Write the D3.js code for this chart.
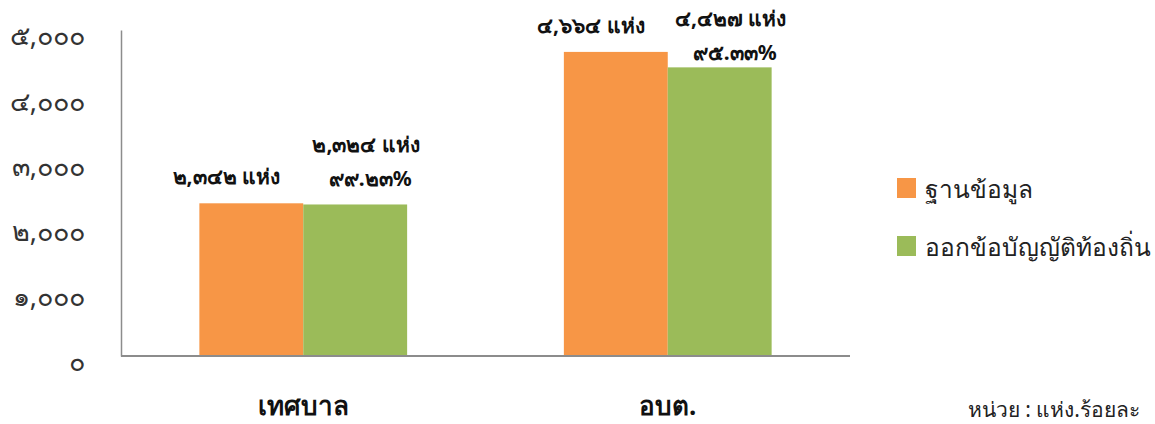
<!DOCTYPE html>
<html>
<head>
<meta charset="utf-8">
<script src="https://cdn.jsdelivr.net/npm/d3@7"></script>
<style>
  body { margin: 0; background: #fff; }
  svg { display: block; font-family: "Noto Sans", "DejaVu Sans", sans-serif; }
</style>
</head>
<body>
<svg id="chart" width="1155" height="424"></svg>
<script>
// data
const categories = ['เทศบาล', 'อบต.'];
const seriesNames = ['ฐานข้อมูล', 'ออกข้อบัญญัติท้องถิ่น'];
const baseValues = [2342, 4664];
const issuedValues = [2324, 4427];
const baseLabels = ['๒,๓๔๒ แห่ง', '๔,๖๖๔ แห่ง'];
const issuedLabels = ['๒,๓๒๔ แห่ง', '๔,๔๒๗ แห่ง'];
const percentLabels = ['๙๙.๒๓%', '๙๕.๓๓%'];
const yTicks = [0, 1000, 2000, 3000, 4000, 5000];
const yTickLabels = ['๐', '๑,๐๐๐', '๒,๐๐๐', '๓,๐๐๐', '๔,๐๐๐', '๕,๐๐๐'];
const colors = ['#f79646', '#9bbb59'];

const svg = d3.select('#chart');
const plot = { left: 121, right: 850, top: 30, bottom: 356 };

const x0 = d3.scaleBand().domain(categories).range([plot.left, plot.right]).paddingInner(0.43).paddingOuter(0.215);
const x1 = d3.scaleBand().domain([0, 1]).range([0, x0.bandwidth()]);
const y = d3.scaleLinear().domain([0, 5000]).range([plot.bottom, plot.top]);

const rows = categories.map((c, i) => ({ cat: c, vals: [baseValues[i], issuedValues[i]] }));

// bars
const groups = svg.append('g').selectAll('g').data(rows).join('g')
  .attr('transform', d => `translate(${x0(d.cat)},0)`);
groups.selectAll('rect').data(d => d.vals.map((v, k) => ({ v, k }))).join('rect')
  .attr('x', d => x1(d.k))
  .attr('width', x1.bandwidth())
  .attr('y', d => y(d.v))
  .attr('height', d => y(0) - y(d.v))
  .attr('fill', d => colors[d.k]);

// axes
const yAxis = svg.append('g').attr('transform', `translate(${plot.left},0)`)
  .call(d3.axisLeft(y).tickValues(yTicks).tickSize(0).tickPadding(36).tickFormat((d, i) => yTickLabels[i]));
yAxis.select('.domain').attr('stroke', '#8c8c8c').attr('stroke-width', 1.5);
yAxis.selectAll('text').attr('font-size', 27).attr('font-weight', 'normal').attr('fill', '#333').attr('dy', '0.55em')
  .attr('font-family', '"Noto Sans", "DejaVu Sans", sans-serif');

svg.append('line')
  .attr('x1', plot.left).attr('x2', plot.right)
  .attr('y1', plot.bottom).attr('y2', plot.bottom)
  .attr('stroke', '#8c8c8c').attr('stroke-width', 2);

// category labels
svg.append('g').selectAll('text').data(categories).join('text')
  .attr('x', d => x0(d) + x0.bandwidth() / 2)
  .attr('y', 415)
  .attr('text-anchor', 'middle')
  .attr('font-size', 26)
  .attr('font-weight', 'bold')
  .attr('fill', '#111')
  .text(d => d);

// value labels
const lab = svg.append('g').attr('font-size', 21).attr('font-weight', 'bold').attr('fill', '#111').attr('text-anchor', 'middle');
categories.forEach((c, i) => {
  const bx = x0(c);
  const nameY = Math.max(y(issuedValues[i]) - 52, 26);
  lab.append('text')
    .attr('x', bx + x1(0) + x1.bandwidth() / 2 - 25)
    .attr('y', y(baseValues[i]) - 19)
    .text(baseLabels[i]);
  lab.append('text')
    .attr('x', bx + x1(1) + x1.bandwidth() / 2 + 11)
    .attr('y', nameY)
    .text(issuedLabels[i]);
  lab.append('text')
    .attr('x', bx + x1(1) + x1.bandwidth() / 2 + 15)
    .attr('y', nameY + 34)
    .text(percentLabels[i]);
});

// legend
const leg = svg.append('g').selectAll('g').data(seriesNames).join('g')
  .attr('transform', (d, i) => `translate(897,${178 + i * 58})`);
leg.append('rect').attr('width', 19).attr('height', 20).attr('fill', (d, i) => colors[i]);
leg.append('text').attr('x', 28).attr('y', 20).attr('font-size', 24.5).attr('fill', '#222').text(d => d);

// unit note
svg.append('text')
  .attr('x', 1140).attr('y', 417)
  .attr('text-anchor', 'end')
  .attr('font-size', 21)
  .attr('fill', '#222')
  .text('หน่วย : แห่ง.ร้อยละ');
</script>
</body>
</html>
